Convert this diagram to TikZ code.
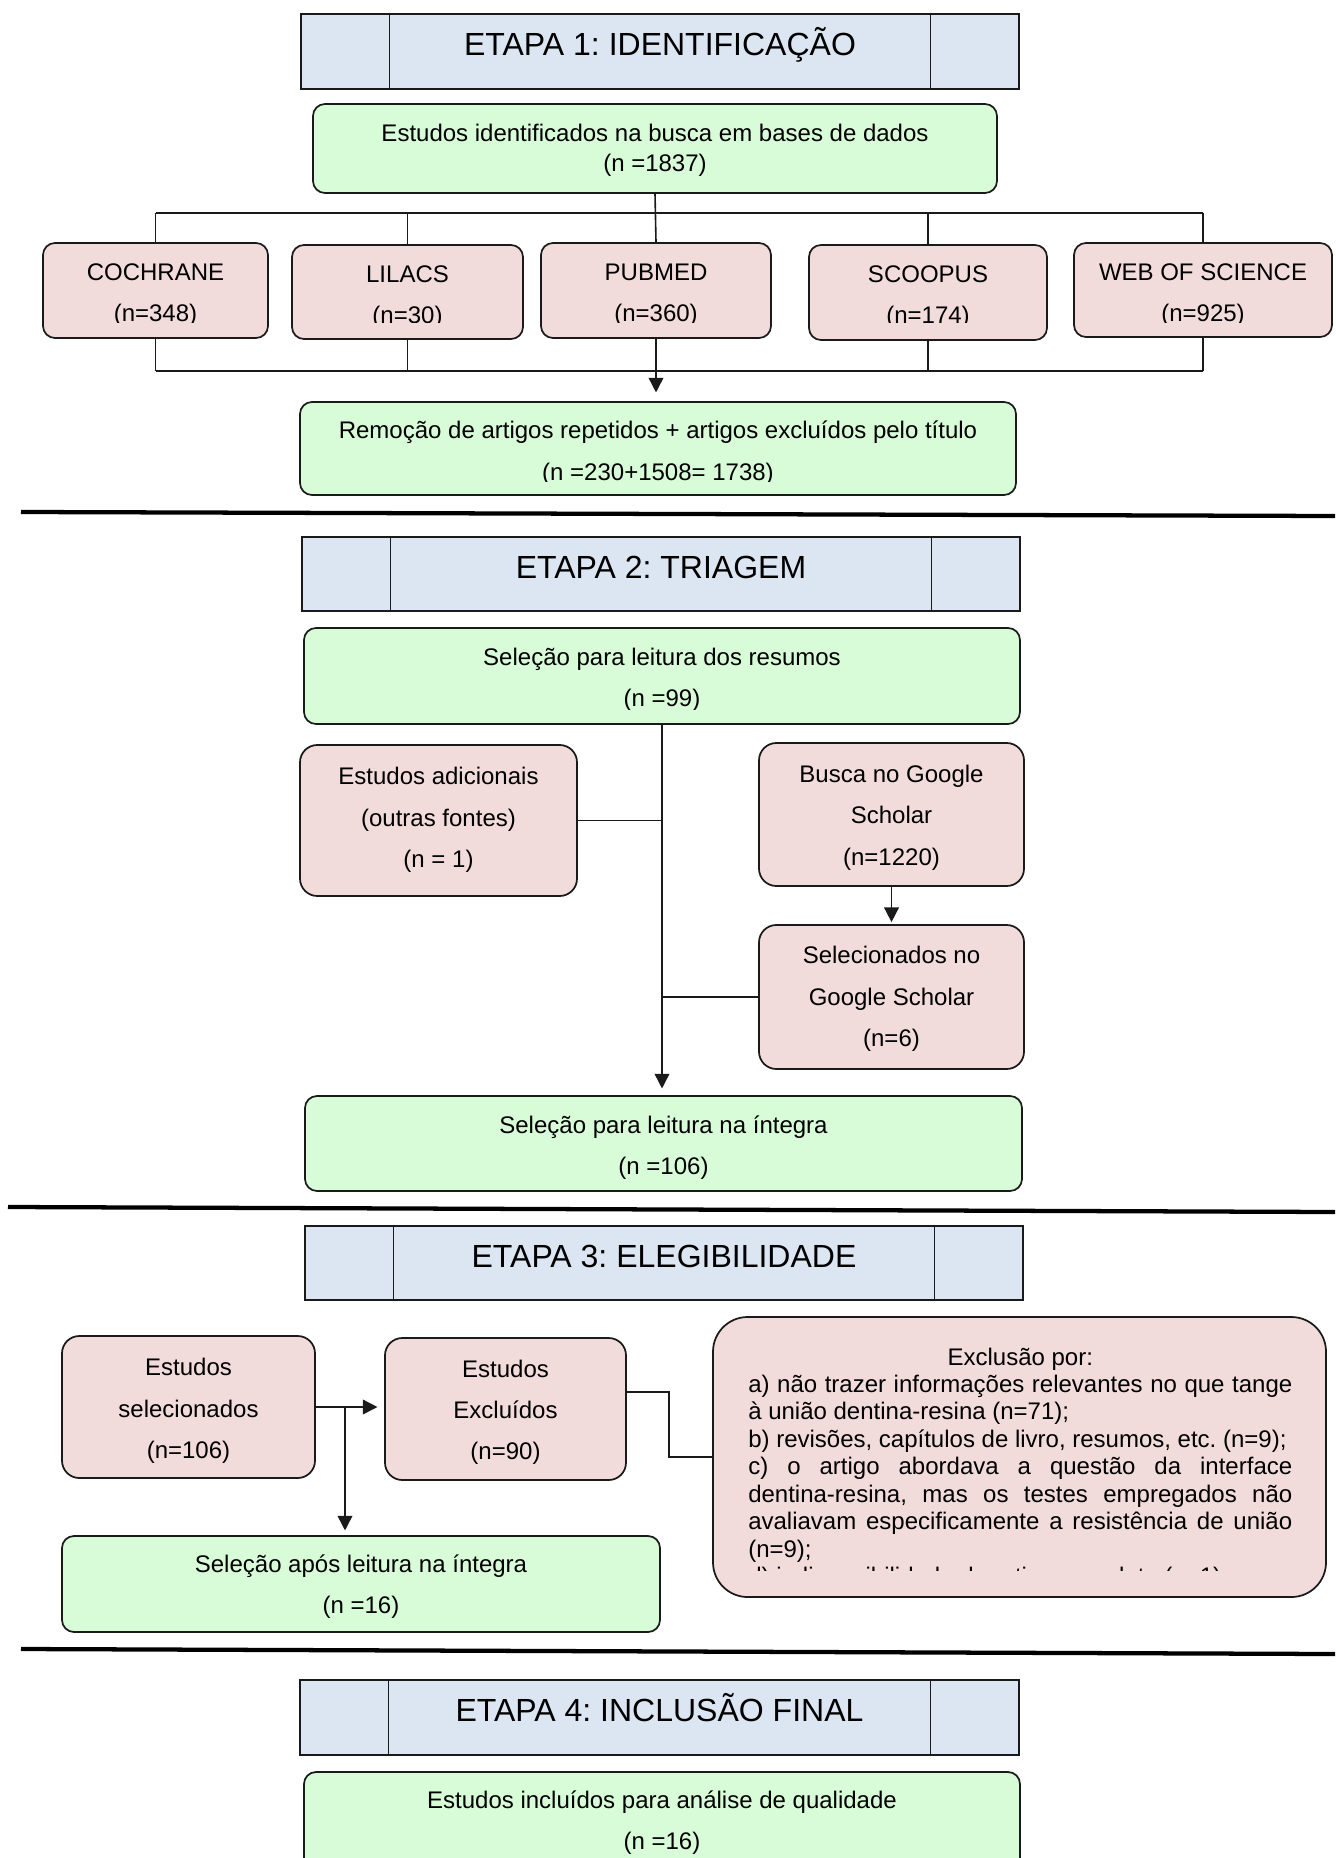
\documentclass[tikz,border=0pt]{standalone}
\usepackage{fontspec}
\setmainfont{Liberation Sans}
\usetikzlibrary{arrows.meta,fit,calc}
\definecolor{hdrfill}{HTML}{DCE6F2}
\definecolor{grnfill}{HTML}{D8FCD8}
\definecolor{pnkfill}{HTML}{F2DCDB}
\definecolor{bord}{HTML}{1A1A1A}
\frenchspacing
\newcommand\ns{\spaceskip=\fontdimen2\font\relax\xspaceskip=\fontdimen2\font\relax}
\newcommand\nsj{\spaceskip=0pt\relax\xspaceskip=0pt\relax}
\begin{document}
\begin{tikzpicture}[x=0.75pt,y=-0.75pt,
  hdr/.style={draw=bord, fill=hdrfill, line width=1.4pt, inner sep=0pt},
  hdrsep/.style={draw=bord, line width=1.2pt},
  htext/.style={font=\fontsize{24}{28}\selectfont, inner sep=0pt},
  gbox/.style={draw=bord, fill=grnfill, rounded corners=9pt, line width=1.3pt, inner sep=0pt},
  pbox/.style={draw=bord, fill=pnkfill, rounded corners=9pt, line width=1.3pt, inner sep=0pt},
  tallbox/.style={rounded corners=13pt},
  btxt/.style={inner sep=0pt, anchor=base, align=center, text width=560pt, font=\fontsize{18}{31}\selectfont},
  conn/.style={draw=bord, line width=1.2pt},
  arr/.style={conn, -{Triangle[length=11pt,width=11pt]}},
  sepline/.style={draw=black, line width=3.2pt}
]
\useasboundingbox (0,0) rectangle (1335,1858);
\clip (0,0) rectangle (1335,1858);

% ================= ETAPA 1 =================
\node[hdr, fit={(301,14)(1019,89)}] (h1) {};
\draw[hdrsep] ([xshift=67pt]h1.north west) -- ([xshift=67pt]h1.south west);
\draw[hdrsep] ([xshift=-67pt]h1.north east) -- ([xshift=-67pt]h1.south east);
\node[htext, anchor=base] (h1t) at ([yshift=-31.8pt]h1.north) {ETAPA 1: IDENTIFICAÇÃO};

\node[gbox, fit={(313,104)(997,193)}] (ident) {};
\node[btxt, font=\fontsize{18}{22.5}\selectfont] (identT) at ([yshift=-28.7pt]ident.north)
  {\ns Estudos identificados na busca em bases de dados\\(n =1837)};

\node[pbox, fit={(43,243)(268,338)}] (cochrane) {};
\node[pbox, fit={(292,245)(523,339)}] (lilacs) {};
\node[pbox, fit={(541,243)(771,338)}] (pubmed) {};
\node[pbox, fit={(809,245)(1047,340)}] (scoopus) {};
\node[pbox, fit={(1074,243)(1332,337)}] (wos) {};
\node[gbox, fit={(300,402)(1016,495)}] (remocao) {};

\begin{scope}
  \clip (30,235) rectangle (1335,323) (290,405) rectangle (1016,481.5);
  \node[btxt] (cochraneT) at ([yshift=-28.5pt]cochrane.north) {\ns COCHRANE\\(n=348)};
  \node[btxt] (lilacsT) at ([yshift=-28.5pt]lilacs.north) {\ns LILACS\\(n=30)};
  \node[btxt] (pubmedT) at ([yshift=-28.5pt]pubmed.north) {\ns PUBMED\\(n=360)};
  \node[btxt] (scoopusT) at ([yshift=-28.5pt]scoopus.north) {\ns SCOOPUS\\(n=174)};
  \node[btxt] (wosT) at ([yshift=-28.5pt]wos.north) {\ns WEB OF SCIENCE\\(n=925)};
  \node[btxt] (remocaoT) at ([yshift=-28.3pt]remocao.north)
    {\ns Remoção de artigos repetidos + artigos excluídos pelo título\\(n =230+1508= 1738)};
\end{scope}

\coordinate (topbar) at (0,213);
\coordinate (botbar) at (0,371);
\draw[conn] (ident.south) -- (pubmed.north);
\draw[conn] (cochrane.north |- topbar) -- (wos.north |- topbar);
\draw[conn] (cochrane.north) -- (cochrane.north |- topbar);
\draw[conn] (lilacs.north) -- (lilacs.north |- topbar);
\draw[conn] (scoopus.north) -- (scoopus.north |- topbar);
\draw[conn] (wos.north) -- (wos.north |- topbar);
\draw[conn] (cochrane.south |- botbar) -- (wos.south |- botbar);
\draw[conn] (cochrane.south) -- (cochrane.south |- botbar);
\draw[conn] (lilacs.south) -- (lilacs.south |- botbar);
\draw[conn] (scoopus.south) -- (scoopus.south |- botbar);
\draw[conn] (wos.south) -- (wos.south |- botbar);
\draw[arr, shorten >=6.5pt] (pubmed.south) -- (pubmed.south |- remocao.north);

\draw[sepline] (21,512) -- (1335,516);

% ================= ETAPA 2 =================
\node[hdr, fit={(302,537)(1020,611)}] (h2) {};
\draw[hdrsep] ([xshift=67pt]h2.north west) -- ([xshift=67pt]h2.south west);
\draw[hdrsep] ([xshift=-67pt]h2.north east) -- ([xshift=-67pt]h2.south east);
\node[htext, anchor=base] (h2t) at ([yshift=-31.8pt]h2.north) {ETAPA 2: TRIAGEM};

\node[gbox, fit={(304,628)(1020,724)}] (selres) {};
\begin{scope}
  \clip (300,630) rectangle (1020,709);
  \node[btxt] (selresT) at ([yshift=-28.5pt]selres.north)
    {\ns Seleção para leitura dos resumos\\(n =99)};
\end{scope}
\node[pbox, tallbox, fit={(300,745)(577,896)}] (adic) {};
\node[btxt] (adicT) at ([yshift=-30.4pt]adic.north)
  {\ns Estudos adicionais\\(outras fontes)\\(n = 1)};
\node[pbox, tallbox, fit={(759,743)(1024,886)}] (busca) {};
\node[btxt] (buscaT) at ([yshift=-30.3pt]busca.north)
  {\ns Busca no Google\\Scholar\\(n=1220)};
\node[pbox, tallbox, fit={(759,925)(1024,1069)}] (selgs) {};
\node[btxt] (selgsT) at ([yshift=-29.7pt]selgs.north)
  {\ns Selecionados no\\Google Scholar\\(n=6)};
\node[gbox, fit={(305,1096)(1022,1191)}] (selint) {};
\node[btxt] (selintT) at ([yshift=-28.5pt]selint.north)
  {\ns Seleção para leitura na íntegra\\(n =106)};

\draw[arr, shorten >=5pt] (selres.south) -- (selres.south |- selint.north);
\draw[conn] (adic.east) -- (adic.east -| selres.south);
\draw[conn] (selgs.west) -- (selgs.west -| selres.south);
\draw[arr, shorten >=1.5pt] (busca.south) -- (selgs.north);

\draw[sepline] (8,1207) -- (1335,1212);

% ================= ETAPA 3 =================
\node[hdr, fit={(305,1226)(1023,1300)}] (h3) {};
\draw[hdrsep] ([xshift=67pt]h3.north west) -- ([xshift=67pt]h3.south west);
\draw[hdrsep] ([xshift=-67pt]h3.north east) -- ([xshift=-67pt]h3.south east);
\node[htext, anchor=base] (h3t) at ([yshift=-31.8pt]h3.north) {ETAPA 3: ELEGIBILIDADE};

\node[pbox, tallbox, fit={(62,1336)(315,1478)}] (essel) {};
\node[btxt] (esselT) at ([yshift=-30.6pt]essel.north)
  {\ns Estudos\\selecionados\\(n=106)};
\node[pbox, tallbox, fit={(385,1338)(626,1480)}] (esexc) {};
\node[btxt] (esexcT) at ([yshift=-30pt]esexc.north)
  {\ns Estudos\\Excluídos\\(n=90)};
\node[pbox, rounded corners=26pt, fit={(713,1317)(1326,1597)}] (excl) {};
\begin{scope}
  \clip (713,1317) rectangle (1326,1570);
  \node[anchor=base west, inner sep=0pt, text width=408pt, align=left,
        font=\fontsize{18}{20.6}\selectfont] (excltext) at (748,1365) {%
    \nsj\makebox[\linewidth][c]{Exclusão por:}\\
    \makebox[\linewidth][s]{a) não trazer informações relevantes no que tange}\\
    \makebox[\linewidth][l]{à união dentina-resina (n=71);}\\
    \makebox[\linewidth][l]{b) revisões, capítulos de livro, resumos, etc. (n=9);}\\
    \makebox[\linewidth][s]{c) o artigo abordava a questão da interface}\\
    \makebox[\linewidth][s]{dentina-resina, mas os testes empregados não}\\
    \makebox[\linewidth][s]{avaliavam especificamente a resistência de união}\\
    \makebox[\linewidth][l]{(n=9);}\\
    \makebox[\linewidth][l]{d) indisponibilidade do artigo completo (n=1).}};
\end{scope}
\node[gbox, fit={(62,1536)(660,1632)}] (selapos) {};
\node[btxt] (selaposT) at ([yshift=-28.1pt]selapos.north)
  {\ns Seleção após leitura na íntegra\\(n =16)};

\coordinate (br) at (345,0);
\coordinate (ej) at (669,1457);
\draw[arr, shorten >=5pt] (essel.east) -- (essel.east -| esexc.west);
\draw[arr, shorten >=3.5pt] (essel.east -| br) -- (br |- selapos.north);
\draw[conn] ([yshift=12.75pt]esexc.east) -| (ej) -- (excl.west);

\draw[sepline] (21,1649) -- (1335,1654);

% ================= ETAPA 4 =================
\node[hdr, fit={(300,1680)(1019,1755)}] (h4) {};
\draw[hdrsep] ([xshift=67pt]h4.north west) -- ([xshift=67pt]h4.south west);
\draw[hdrsep] ([xshift=-67pt]h4.north east) -- ([xshift=-67pt]h4.south east);
\node[htext, anchor=base] (h4t) at ([yshift=-31.8pt]h4.north) {ETAPA 4: INCLUSÃO FINAL};

\node[gbox, fit={(304,1772)(1020,1875)}] (incl) {};
\node[btxt] (inclT) at ([yshift=-27.8pt]incl.north)
  {\ns Estudos incluídos para análise de qualidade\\(n =16)};

\end{tikzpicture}
\end{document}
